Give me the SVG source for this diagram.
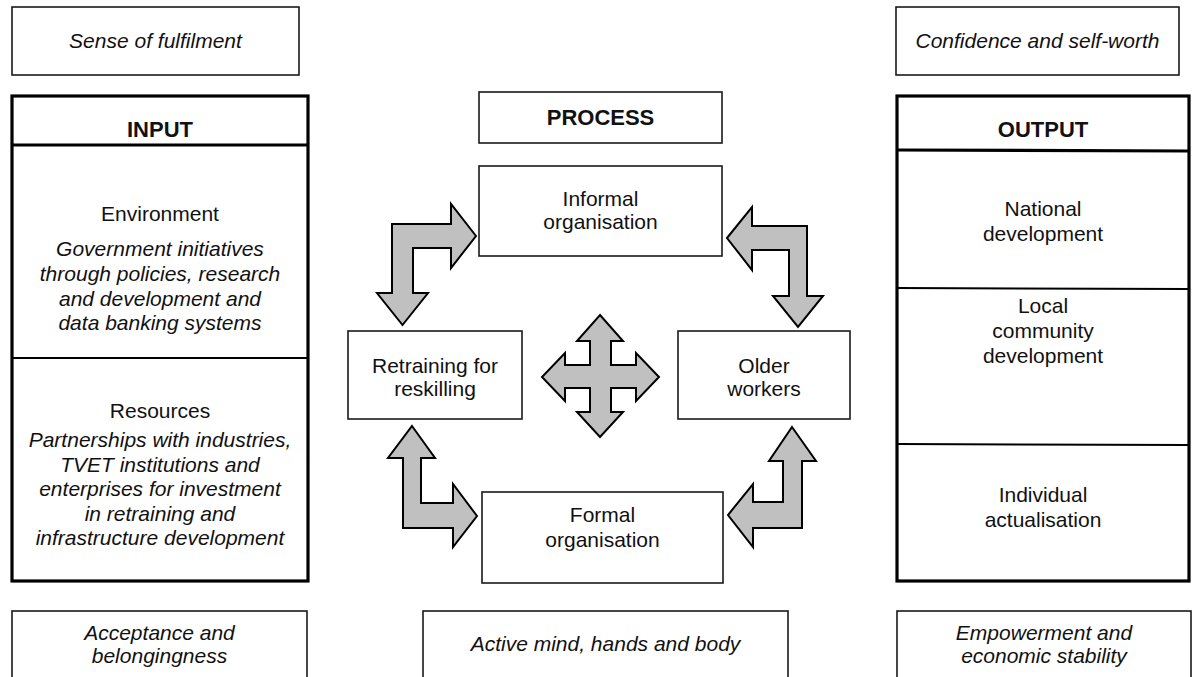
<svg xmlns="http://www.w3.org/2000/svg" width="1193" height="677" viewBox="0 0 1193 677">
<style>
.bg{fill:#fff}
.box{fill:#fff;stroke:#1a1a1a;stroke-width:1.6}
.thick{fill:#fff;stroke:#000;stroke-width:3.2}
.div{stroke:#000;stroke-width:2;fill:none}
.hdiv{stroke:#000;stroke-width:3.2;fill:none}
.arr{fill:#c0c0c0;stroke:#000;stroke-width:2;stroke-linejoin:miter}
text{font-family:"Liberation Sans",Arial,sans-serif;font-size:21px;fill:#111;text-anchor:middle}
.it{font-style:italic}
.b{font-weight:bold;font-size:22px}
</style>
<rect class="bg" x="0" y="0" width="1193" height="677"/>
<g id="fulfilment">
<rect class="box" x="12" y="7" width="287" height="68"/>
<text class="it" x="155.5" y="48">Sense of fulfilment</text>
</g>
<g id="confidence">
<rect class="box" x="896" y="7" width="283" height="68"/>
<text class="it" x="1037.5" y="48">Confidence and self-worth</text>
</g>
<g id="input">
<rect class="thick" x="12" y="96" width="296" height="485"/>
<line class="hdiv" x1="12" y1="145" x2="308" y2="145"/>
<line class="div" x1="12" y1="358" x2="308" y2="358"/>
<text class="b" x="160" y="137">INPUT</text>
<text x="160" y="221">Environment</text>
<text class="it" x="160" y="256">Government initiatives</text>
<text class="it" x="160" y="281">through policies, research</text>
<text class="it" x="160" y="306">and development and</text>
<text class="it" x="160" y="330">data banking systems</text>
<text x="160" y="418">Resources</text>
<text class="it" x="160" y="447">Partnerships with industries,</text>
<text class="it" x="160" y="472">TVET institutions and</text>
<text class="it" x="160" y="496">enterprises for investment</text>
<text class="it" x="160" y="521">in retraining and</text>
<text class="it" x="160" y="545">infrastructure development</text>
</g>
<g id="output">
<rect class="thick" x="897" y="96" width="292" height="485"/>
<line class="hdiv" x1="897" y1="150" x2="1189" y2="151"/>
<line class="div" x1="897" y1="288" x2="1189" y2="289"/>
<line class="div" x1="897" y1="444" x2="1189" y2="445"/>
<text class="b" x="1043" y="137">OUTPUT</text>
<text x="1043" y="216">National</text>
<text x="1043" y="241">development</text>
<text x="1043" y="313">Local</text>
<text x="1043" y="338">community</text>
<text x="1043" y="363">development</text>
<text x="1043" y="502">Individual</text>
<text x="1043" y="527">actualisation</text>
</g>
<g id="process">
<rect class="box" x="479" y="92" width="243" height="51"/>
<text class="b" x="600.5" y="125">PROCESS</text>
</g>
<g id="informal">
<rect class="box" x="479" y="166" width="243" height="90"/>
<text x="600.5" y="206">Informal</text>
<text x="600.5" y="229">organisation</text>
</g>
<g id="retraining">
<rect class="box" x="348" y="331" width="174" height="88"/>
<text x="435" y="373">Retraining for</text>
<text x="435" y="396">reskilling</text>
</g>
<g id="older">
<rect class="box" x="678" y="331" width="172" height="88"/>
<text x="764" y="373">Older</text>
<text x="764" y="396">workers</text>
</g>
<g id="formal">
<rect class="box" x="482" y="492" width="241" height="91"/>
<text x="602.5" y="522">Formal</text>
<text x="602.5" y="547">organisation</text>
</g>
<g id="acceptance">
<rect class="box" x="12" y="611" width="295" height="80"/>
<text class="it" x="159.5" y="640">Acceptance and</text>
<text class="it" x="159.5" y="663">belongingness</text>
</g>
<g id="active">
<rect class="box" x="423" y="611" width="365" height="80"/>
<text class="it" x="605.5" y="651">Active mind, hands and body</text>
</g>
<g id="empowerment">
<rect class="box" x="897" y="611" width="294" height="80"/>
<text class="it" x="1044" y="640">Empowerment and</text>
<text class="it" x="1044" y="663">economic stability</text>
</g>
<g id="connectors">
<polygon class="arr" points="476,236 451,204 451,224 392,224 392,293 377,293 402.5,325 428,293 413,293 413,248 451,248 451,268"/>
<polygon class="arr" points="727,238 752,207 752,226 807,226 807,296 823,296 798,327 773,296 789,296 789,250 752,250 752,270"/>
<polygon class="arr" points="412,426 435,458 421,458 421,503 453,503 453,484 477,516 453,547 453,528 403,528 403,458 388,458"/>
<polygon class="arr" points="792,427 816,461 802,461 802,528 753,528 753,547 728,515 753,484 753,502 783,502 783,461 769,461"/>
<polygon class="arr" points="600,315 623,341 611,341 611,365 636,365 636,353 659,377 636,401 636,388 611,388 611,412 623,412 600,437 577,412 590,412 590,388 565,388 565,401 542,377 565,353 565,365 590,365 590,341 577,341"/>
</g>
</svg>
